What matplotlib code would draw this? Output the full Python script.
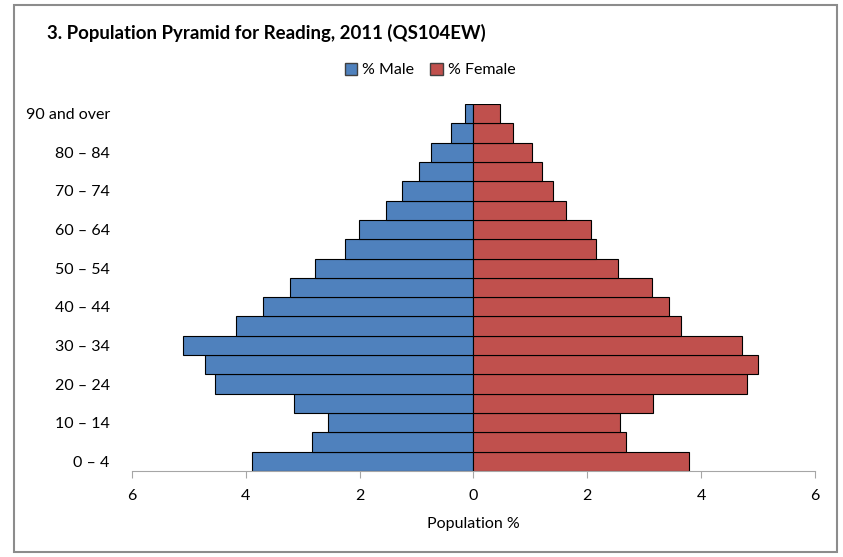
import matplotlib
matplotlib.use('Agg')

import matplotlib.pyplot as plt
from matplotlib.patches import Rectangle, Patch

plt.rcParams['font.family'] = ['Lato', 'DejaVu Sans']

# Dados (QS104EW, Reading 2011)
faixas = ['0 – 4', '5 – 9', '10 – 14', '15 – 19', '20 – 24', '25 – 29', '30 – 34',
          '35 – 39', '40 – 44', '45 – 49', '50 – 54', '55 – 59', '60 – 64',
          '65 – 69', '70 – 74', '75 – 79', '80 – 84', '85 – 89', '90 and over']
homens = [3.90, 2.83, 2.56, 3.15, 4.55, 4.72, 5.10, 4.18, 3.70, 3.23,
          2.78, 2.25, 2.02, 1.54, 1.26, 0.96, 0.75, 0.39, 0.15]
mulheres = [3.79, 2.68, 2.57, 3.16, 4.81, 5.00, 4.72, 3.64, 3.44, 3.14,
            2.54, 2.16, 2.07, 1.62, 1.40, 1.21, 1.02, 0.70, 0.46]
xticks = [-6, -4, -2, 0, 2, 4, 6]

cor_h = '#4F81BD'
cor_m = '#C0504D'

fig = plt.figure(figsize=(8.43, 5.57), dpi=100)
ax = fig.add_axes([132 / 843, 1 - 471 / 557, 683 / 843, 367 / 557])

pos = range(len(faixas))
ax.barh(pos, [-v for v in homens], height=1.0, color=cor_h, edgecolor='black', linewidth=0.8)
ax.barh(pos, mulheres, height=1.0, color=cor_m, edgecolor='black', linewidth=0.8)
ax.axvline(0, color='#A6A6A6', linewidth=1, zorder=0.5)

ax.set_xlim(-6, 6)
ax.set_ylim(-0.5, len(faixas) - 0.5)
ax.set_xticks(xticks)
ax.set_xticklabels([str(abs(t)) for t in xticks], fontsize=11.5)
ax.set_yticks(list(pos)[::2])
ax.set_yticklabels(faixas[::2], fontsize=11.5)
ax.tick_params(axis='y', length=0, pad=16)
ax.tick_params(axis='x', length=5, color='#A6A6A6', pad=8)
for lado in ['left', 'right', 'top']:
    ax.spines[lado].set_visible(False)
ax.spines['bottom'].set_color('#A6A6A6')
ax.set_xlabel('Population %', fontsize=11.5, labelpad=10)

fig.text(47 / 843, 1 - 33 / 557, '3. Population Pyramid for Reading, 2011 (QS104EW)',
         fontsize=13.4, fontweight='bold', va='center', ha='left')

handles = [Patch(facecolor=cor_h, edgecolor='#404040', label='% Male'),
           Patch(facecolor=cor_m, edgecolor='#404040', label='% Female')]
fig.legend(handles=handles, loc='center', bbox_to_anchor=(430 / 843, 1 - 70 / 557), ncol=2,
           frameon=False, fontsize=11.5, handlelength=0.8, handleheight=0.8,
           handletextpad=0.3, columnspacing=1.0)

# Moldura externa
fig.patches.append(Rectangle((14 / 843, 5 / 557), 823 / 843, 547 / 557, transform=fig.transFigure,
                             fill=False, edgecolor='#8C8C8C', linewidth=1.5))

fig.savefig('out.png', dpi=100)
plt.close(fig)
